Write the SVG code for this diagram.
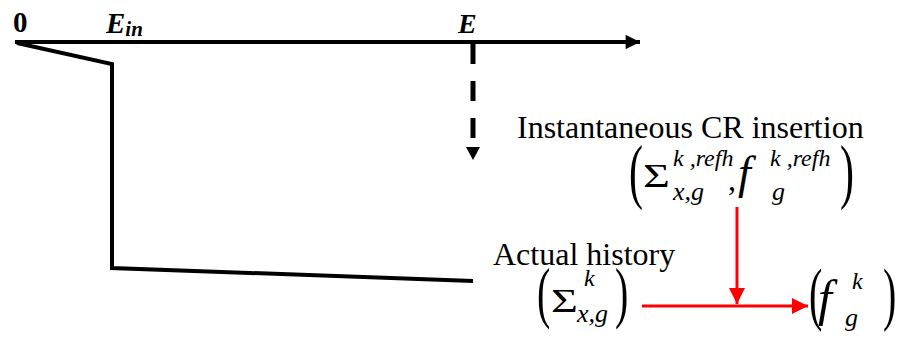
<svg xmlns="http://www.w3.org/2000/svg" width="901" height="339" viewBox="0 0 901 339">
<defs>
<style>
text{font-family:"Liberation Serif","Times New Roman",serif;fill:#000}
.b{font-weight:bold}
.i{font-style:italic}
.blk{stroke:#000;stroke-width:4;fill:none}
.red{stroke:#f00;stroke-width:3;fill:none}
</style>
<marker id="ah" viewBox="0 0 10 10" refX="10" refY="5" markerWidth="4" markerHeight="3.6" orient="auto" markerUnits="strokeWidth"><path d="M0,0L10,5L0,10z" fill="#000"/></marker>
<marker id="rh" viewBox="0 0 10 10" refX="10" refY="5" markerWidth="5.5" markerHeight="6" orient="auto" markerUnits="strokeWidth"><path d="M0,0L10,5L0,10z" fill="#f00"/></marker>
</defs>
<rect width="901" height="339" fill="#fff"/>
<g id="axis">
<line class="blk" x1="15" y1="42" x2="640" y2="42" marker-end="url(#ah)"/>
<text class="b" x="13" y="32" font-size="29">0</text>
<text class="b i" x="106" y="33" font-size="29">E<tspan font-size="21" dy="3">in</tspan></text>
<text class="b i" x="458" y="33" font-size="28">E</text>
</g>
<g id="curve">
<polyline class="blk" points="17,43 112,64 112,268 473,281" stroke-linejoin="miter"/>
</g>
<g id="connectors">
<line x1="473" y1="44" x2="473" y2="140" stroke="#000" stroke-width="5" stroke-dasharray="20,17"/>
<path d="M466,147L480,147L473,160z" fill="#000"/>
<line class="red" x1="737" y1="207" x2="737" y2="304" marker-end="url(#rh)"/>
<line class="red" x1="642" y1="306" x2="808" y2="306" marker-end="url(#rh)"/>
</g>
<g id="cr-insertion">
<text x="517" y="138" font-size="32">Instantaneous CR insertion</text>
<text x="0" y="0" font-size="42" transform="translate(629,195) scale(1,1.7)">(</text>
<text x="0" y="0" font-size="33" transform="translate(643,187) scale(1.4,1)">Σ</text>
<text class="i" x="673" y="166" font-size="24">k ,refh</text>
<text class="i" x="673" y="200" font-size="26">x,g</text>
<text x="728" y="190" font-size="32">,</text>
<text class="i" x="738" y="188" font-size="46">f</text>
<text class="i" x="770" y="166" font-size="24">k ,refh</text>
<text class="i" x="772" y="200" font-size="26">g</text>
<text x="0" y="0" font-size="42" transform="translate(840,195) scale(1,1.7)">)</text>
</g>
<g id="actual-history">
<text x="493" y="265" font-size="32">Actual history</text>
<text x="0" y="0" font-size="40" transform="translate(537,315) scale(1,1.7)">(</text>
<text x="0" y="0" font-size="33" transform="translate(551,312) scale(1.4,1)">Σ</text>
<text class="i" x="584" y="286" font-size="24">k</text>
<text class="i" x="577" y="322" font-size="26">x,g</text>
<text x="0" y="0" font-size="40" transform="translate(615,315) scale(1,1.7)">)</text>
</g>
<g id="result">
<text x="0" y="0" font-size="40" transform="translate(809,317) scale(1,1.75)">(</text>
<text class="i" x="818" y="315" font-size="50">f</text>
<text class="i" x="852" y="289" font-size="24">k</text>
<text class="i" x="845" y="326" font-size="26">g</text>
<text x="0" y="0" font-size="40" transform="translate(883,317) scale(1,1.75)">)</text>
</g>
</svg>
